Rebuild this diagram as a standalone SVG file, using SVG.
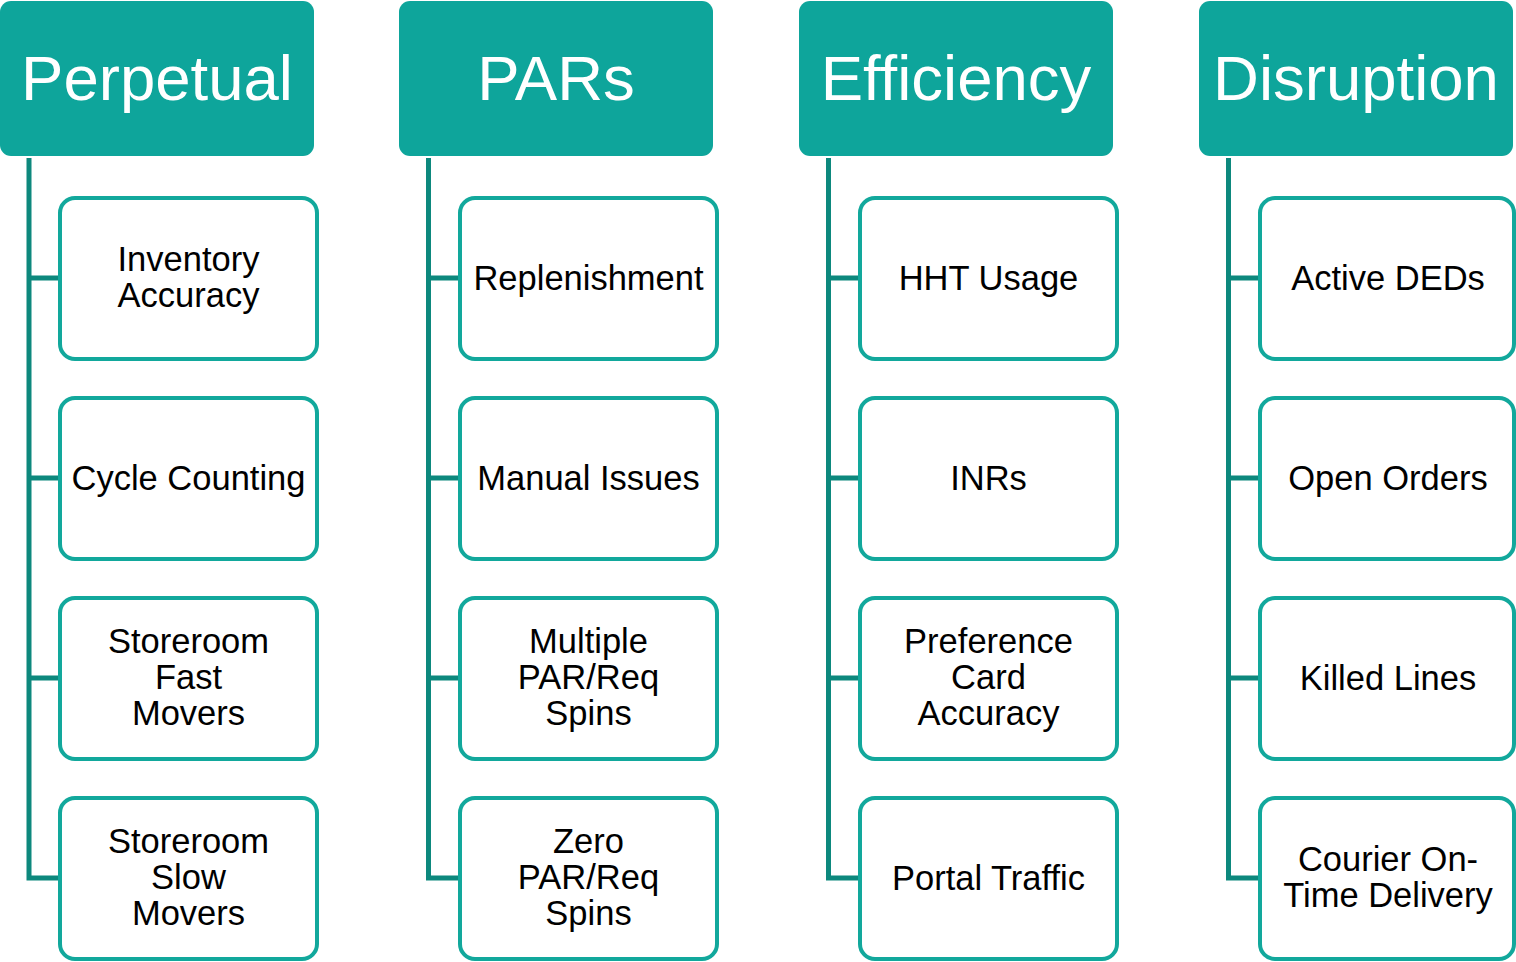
<svg xmlns="http://www.w3.org/2000/svg" width="1516" height="962" viewBox="0 0 1516 962">
  <style>
    .hdr { fill: #0EA59B; }
    .hdr-t { fill: #ffffff; font-family: "Liberation Sans", Arial, sans-serif; font-size: 63.5px; text-anchor: middle; }
    .box { fill: #ffffff; stroke: #12A89C; stroke-width: 4; }
    .box-t { fill: #000000; font-family: "Liberation Sans", Arial, sans-serif; font-size: 34.5px; text-anchor: middle; }
    .conn { fill: none; stroke: #0D887D; stroke-width: 5; }
  </style>
  <rect width="1516" height="962" fill="#ffffff"/>

  <!-- connectors: trunk from each header with branches to its items -->
  <g id="connectors" class="conn">
    <path d="M29 158 V878 H60 M29 278 H60 M29 478 H60 M29 678 H60"/>
    <path d="M428.5 158 V878 H460 M428.5 278 H460 M428.5 478 H460 M428.5 678 H460"/>
    <path d="M828.5 158 V878 H860 M828.5 278 H860 M828.5 478 H860 M828.5 678 H860"/>
    <path d="M1228.5 158 V878 H1260 M1228.5 278 H1260 M1228.5 478 H1260 M1228.5 678 H1260"/>
  </g>

  <!-- column 1 -->
  <g id="perpetual"><rect class="hdr" x="0" y="1" width="314" height="155" rx="11"/><text class="hdr-t" x="157" y="99.5">Perpetual</text></g>
  <g id="inventory-accuracy"><rect class="box" x="60" y="198" width="257" height="161" rx="15"/><text class="box-t" x="188.5" y="270.5">Inventory</text><text class="box-t" x="188.5" y="306.5">Accuracy</text></g>
  <g id="cycle-counting"><rect class="box" x="60" y="398" width="257" height="161" rx="15"/><text class="box-t" x="188.5" y="489.5">Cycle Counting</text></g>
  <g id="storeroom-fast"><rect class="box" x="60" y="598" width="257" height="161" rx="15"/><text class="box-t" x="188.5" y="652.5">Storeroom</text><text class="box-t" x="188.5" y="688.5">Fast</text><text class="box-t" x="188.5" y="724.5">Movers</text></g>
  <g id="storeroom-slow"><rect class="box" x="60" y="798" width="257" height="161" rx="15"/><text class="box-t" x="188.5" y="852.5">Storeroom</text><text class="box-t" x="188.5" y="888.5">Slow</text><text class="box-t" x="188.5" y="924.5">Movers</text></g>

  <!-- column 2 -->
  <g id="pars"><rect class="hdr" x="399" y="1" width="314" height="155" rx="11"/><text class="hdr-t" x="556" y="99.5">PARs</text></g>
  <g id="replenishment"><rect class="box" x="460" y="198" width="257" height="161" rx="15"/><text class="box-t" x="588.5" y="289.5">Replenishment</text></g>
  <g id="manual-issues"><rect class="box" x="460" y="398" width="257" height="161" rx="15"/><text class="box-t" x="588.5" y="489.5">Manual Issues</text></g>
  <g id="multiple-par"><rect class="box" x="460" y="598" width="257" height="161" rx="15"/><text class="box-t" x="588.5" y="652.5">Multiple</text><text class="box-t" x="588.5" y="688.5">PAR/Req</text><text class="box-t" x="588.5" y="724.5">Spins</text></g>
  <g id="zero-par"><rect class="box" x="460" y="798" width="257" height="161" rx="15"/><text class="box-t" x="588.5" y="852.5">Zero</text><text class="box-t" x="588.5" y="888.5">PAR/Req</text><text class="box-t" x="588.5" y="924.5">Spins</text></g>

  <!-- column 3 -->
  <g id="efficiency"><rect class="hdr" x="799" y="1" width="314" height="155" rx="11"/><text class="hdr-t" x="956" y="99.5">Efficiency</text></g>
  <g id="hht-usage"><rect class="box" x="860" y="198" width="257" height="161" rx="15"/><text class="box-t" x="988.5" y="289.5">HHT Usage</text></g>
  <g id="inrs"><rect class="box" x="860" y="398" width="257" height="161" rx="15"/><text class="box-t" x="988.5" y="489.5">INRs</text></g>
  <g id="preference-card"><rect class="box" x="860" y="598" width="257" height="161" rx="15"/><text class="box-t" x="988.5" y="652.5">Preference</text><text class="box-t" x="988.5" y="688.5">Card</text><text class="box-t" x="988.5" y="724.5">Accuracy</text></g>
  <g id="portal-traffic"><rect class="box" x="860" y="798" width="257" height="161" rx="15"/><text class="box-t" x="988.5" y="889.5">Portal Traffic</text></g>

  <!-- column 4 -->
  <g id="disruption"><rect class="hdr" x="1199" y="1" width="314" height="155" rx="11"/><text class="hdr-t" x="1356" y="99.5">Disruption</text></g>
  <g id="active-deds"><rect class="box" x="1260" y="198" width="254" height="161" rx="15"/><text class="box-t" x="1388" y="289.5">Active DEDs</text></g>
  <g id="open-orders"><rect class="box" x="1260" y="398" width="254" height="161" rx="15"/><text class="box-t" x="1388" y="489.5">Open Orders</text></g>
  <g id="killed-lines"><rect class="box" x="1260" y="598" width="254" height="161" rx="15"/><text class="box-t" x="1388" y="689.5">Killed Lines</text></g>
  <g id="courier"><rect class="box" x="1260" y="798" width="254" height="161" rx="15"/><text class="box-t" x="1388" y="870.5">Courier On-</text><text class="box-t" x="1388" y="906.5">Time Delivery</text></g>
</svg>
